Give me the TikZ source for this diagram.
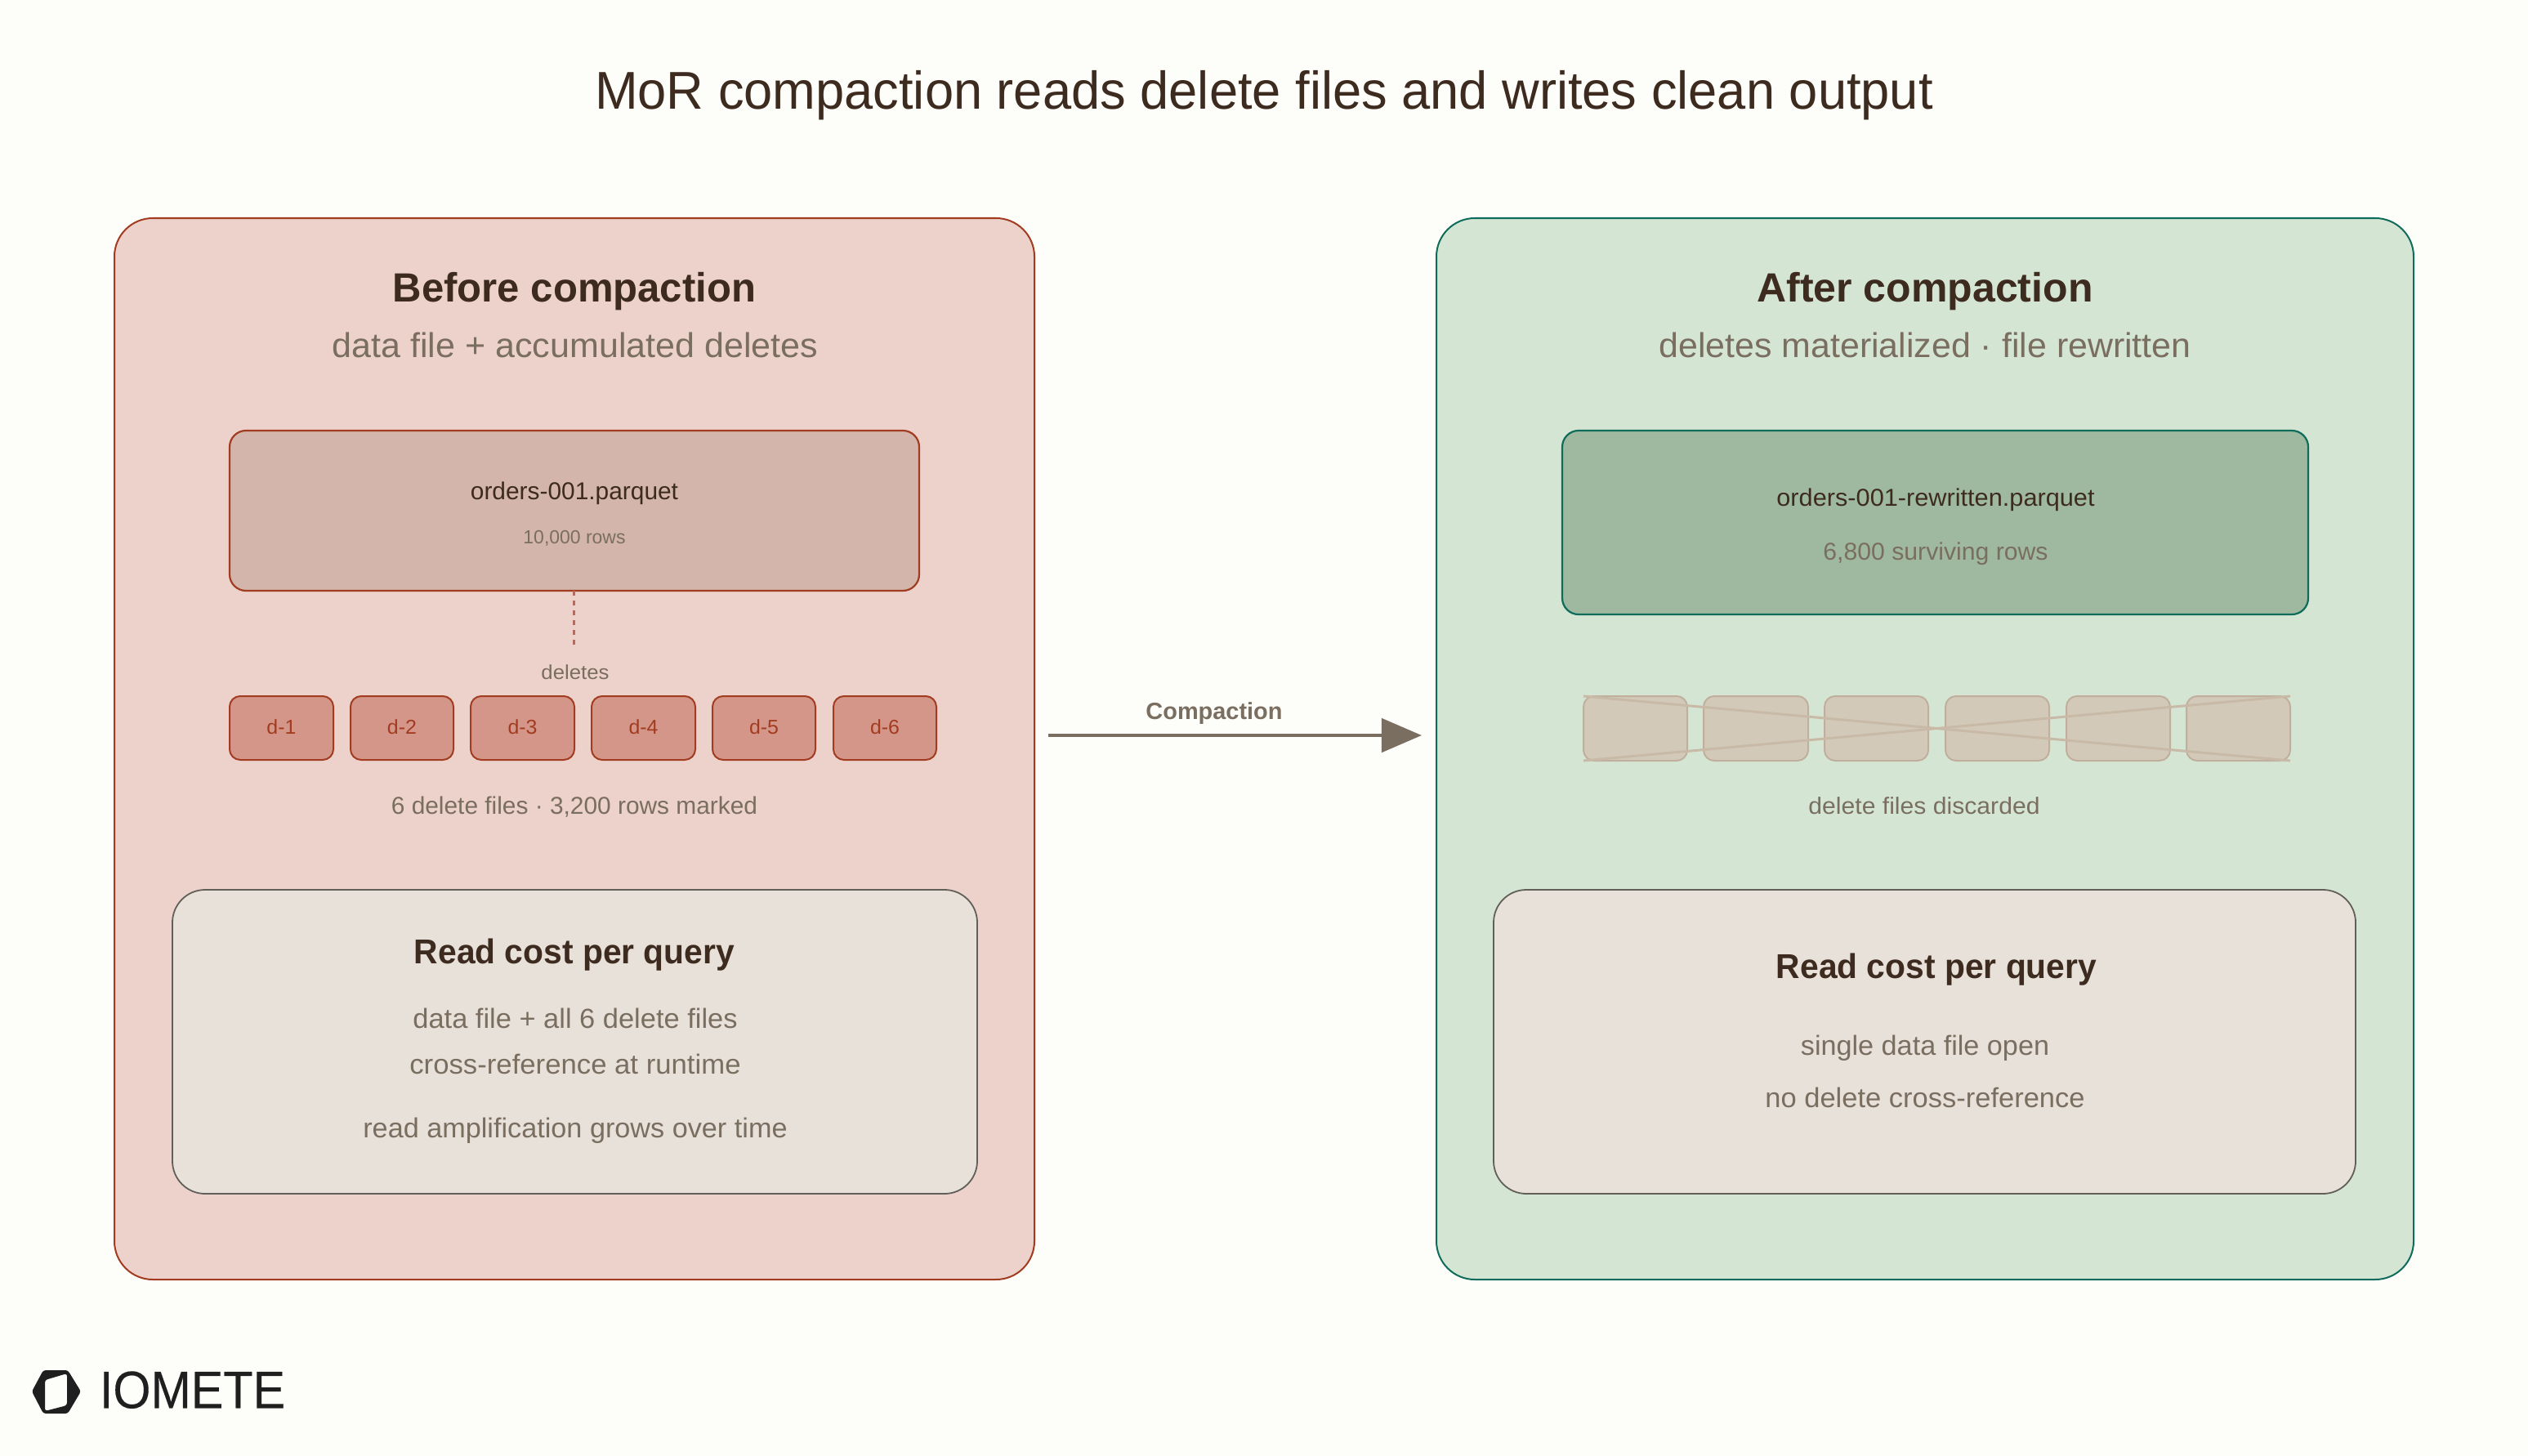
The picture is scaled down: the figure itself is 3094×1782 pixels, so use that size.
\documentclass[tikz,border=0pt]{standalone}
\usepackage{fontspec}
\usepackage{graphicx}
\setmainfont{Liberation Sans}
\newfontfamily\logofont[FakeBold=0.2]{Liberation Sans}
\usetikzlibrary{arrows.meta}
\definecolor{bgc}{HTML}{FDFEF9}
\definecolor{redfill}{HTML}{EDD2CB}
\definecolor{redline}{HTML}{A23C20}
\definecolor{grnfill}{HTML}{D4E6D3}
\definecolor{grnline}{HTML}{0F6B5A}
\definecolor{filered}{HTML}{D3B5AB}
\definecolor{filegrn}{HTML}{9FB9A0}
\definecolor{delfill}{HTML}{D5968A}
\definecolor{costfill}{HTML}{E8E1DA}
\definecolor{costline}{HTML}{625F59}
\definecolor{ghostfill}{HTML}{D3C9B8}
\definecolor{ghostline}{HTML}{C0AF9C}
\definecolor{crossc}{HTML}{C9BAA8}
\definecolor{dark}{HTML}{3D2B1F}
\definecolor{muted}{HTML}{7A6E60}
\definecolor{dashc}{HTML}{C0675A}
\definecolor{logoc}{HTML}{1F1F1F}
% set text to an exact width (in reference pixels)
\newcommand\fitx[2]{{\setbox0=\hbox{#2}\pgfmathsetmacro\fitr{#1*0.284528/\the\wd0}\scalebox{\fitr}[1]{\box0}}}
% name, style, x1, y1, x2, y2
\newcommand\pxbox[6]{\node[#2,minimum width={(#5-#3)*0.01cm},minimum height={(#6-#4)*0.01cm}] (#1) at ({(#3+#5)/2},{(#4+#6)/2}) {};}
\tikzset{
  boxbase/.style={draw,inner sep=0pt,outer sep=0pt,rectangle},
  panelred/.style={boxbase,fill=redfill,draw=redline,line width=0.02cm,rounded corners=0.47cm},
  panelgrn/.style={boxbase,fill=grnfill,draw=grnline,line width=0.02cm,rounded corners=0.47cm},
  filer/.style={boxbase,fill=filered,draw=redline,line width=0.022cm,rounded corners=0.2cm},
  fileg/.style={boxbase,fill=filegrn,draw=grnline,line width=0.022cm,rounded corners=0.2cm},
  delbox/.style={boxbase,fill=delfill,draw=redline,line width=0.02cm,rounded corners=0.13cm},
  ghost/.style={boxbase,fill=ghostfill,draw=ghostline,line width=0.02cm,rounded corners=0.13cm},
  costbox/.style={boxbase,fill=costfill,draw=costline,line width=0.018cm,rounded corners=0.4cm},
  txt/.style={inner sep=0pt,outer sep=0pt,anchor=mid},
  dk/.style={txt,text=dark},
  mt/.style={txt,text=muted},
  fs/.style={font=\fontsize{#1}{#1}\selectfont},
  fb/.style={font=\fontsize{#1}{#1}\selectfont\bfseries},
}
\begin{document}
\begin{tikzpicture}[x=0.01cm,y=-0.01cm]
\path[use as bounding box,fill=bgc] (0,0) rectangle (3094,1782);
\node[dk,fs=18.5] (title) at (1547,124) {\fitx{1637}{MoR compaction reads delete files and writes clean output}};
% left panel
\pxbox{L}{panelred}{140}{267}{1266}{1566}
\node[dk,fb=14.2] (Lh) at (703,360) {\fitx{444}{Before compaction}};
\node[mt,fs=12] (Ls) at (704,428) {\fitx{594}{data file + accumulated deletes}};
\pxbox{Lf}{filer}{281}{527}{1125}{723}
\node[dk,fs=8.5] (Lft) at (703,602) {\fitx{254}{orders-001.parquet}};
\node[mt,fs=6.6] (Lfr) at (703,656) {\fitx{125}{10,000 rows}};
\coordinate (dashend) at (702,795);
\draw[dashc,line width=0.03cm,dash pattern=on 0.06cm off 0.06cm] (Lf.south -| dashend) -- (dashend);
\node[mt,fs=7] (Ldel) at (704,822) {\fitx{83}{deletes}};
\pxbox{d1}{delbox}{281}{852}{408}{930}
\pxbox{d2}{delbox}{429}{852}{555}{930}
\pxbox{d3}{delbox}{576}{852}{703}{930}
\pxbox{d4}{delbox}{724}{852}{851}{930}
\pxbox{d5}{delbox}{872}{852}{998}{930}
\pxbox{d6}{delbox}{1020}{852}{1146}{930}
\foreach \n in {1,...,6}{\node[txt,text=redline,fs=7] (d\n t) at ([yshift=0.02cm]d\n) {\fitx{36}{d-\n}};}
\node[mt,fs=8.5] (Lc) at (703,987) {\fitx{448}{6 delete files · 3,200 rows marked}};
\pxbox{Lq}{costbox}{211}{1089}{1196}{1461}
\node[dk,fb=12] (Lqh) at (703,1170) {\fitx{392}{Read cost per query}};
\node[mt,fs=9.6] (Lq1) at (704,1249) {\fitx{397}{data file + all 6 delete files}};
\node[mt,fs=9.6] (Lq2) at (704,1305) {\fitx{405}{cross-reference at runtime}};
\node[mt,fs=9.6] (Lq3) at (704,1383) {\fitx{519}{read amplification grows over time}};
% right panel
\pxbox{R}{panelgrn}{1758}{267}{2954}{1566}
\node[dk,fb=14.2] (Rh) at (2356,360) {\fitx{411}{After compaction}};
\node[mt,fs=12] (Rs) at (2356,428) {\fitx{651}{deletes materialized · file rewritten}};
\pxbox{Rf}{fileg}{1912}{527}{2825}{752}
\node[dk,fs=8.5] (Rft) at (2369,610) {\fitx{389}{orders-001-rewritten.parquet}};
\node[mt,fs=8.5] (Rfr) at (2369,676) {\fitx{275}{6,800 surviving rows}};
\pxbox{g1}{ghost}{1938}{852}{2065}{931}
\pxbox{g2}{ghost}{2085}{852}{2213}{931}
\pxbox{g3}{ghost}{2233}{852}{2360}{931}
\pxbox{g4}{ghost}{2381}{852}{2508}{931}
\pxbox{g5}{ghost}{2529}{852}{2656}{931}
\pxbox{g6}{ghost}{2676}{852}{2803}{931}
\draw[crossc,line width=0.03cm] (g1.north west) -- (g6.south east);
\draw[crossc,line width=0.03cm] (g1.south west) -- (g6.north east);
\node[mt,fs=8.2] (Rd) at (2355,987) {\fitx{283}{delete files discarded}};
\pxbox{Rq}{costbox}{1828}{1089}{2883}{1461}
\node[dk,fb=12] (Rqh) at (2370,1188) {\fitx{392}{Read cost per query}};
\node[mt,fs=9.6] (Rq1) at (2356,1282) {\fitx{304}{single data file open}};
\node[mt,fs=9.6] (Rq2) at (2356,1346) {\fitx{391}{no delete cross-reference}};
% arrow
\coordinate (as) at (1283,900);
\coordinate (ae) at (1740,900);
\draw[muted,line width=0.045cm,-{Triangle[length=0.49cm,width=0.41cm]}] (as) -- (ae);
\node[txt,text=muted,fb=8.2] (ac) at (1486,871) {\fitx{167}{Compaction}};
% logo
\path[fill=logoc,even odd rule,rounded corners=0.03cm]
  (39,1703) -- (53,1677) -- (83,1677) -- (99,1703) -- (83,1730) -- (53,1730) -- cycle
  (55,1689) -- (82,1681) -- (82,1720) -- (55,1727) -- cycle;
\node[txt,text=logoc,fs=18.3] (logo) at (235.5,1714) {\logofont\fitx{227}{IOMETE}};
\end{tikzpicture}
\end{document}
